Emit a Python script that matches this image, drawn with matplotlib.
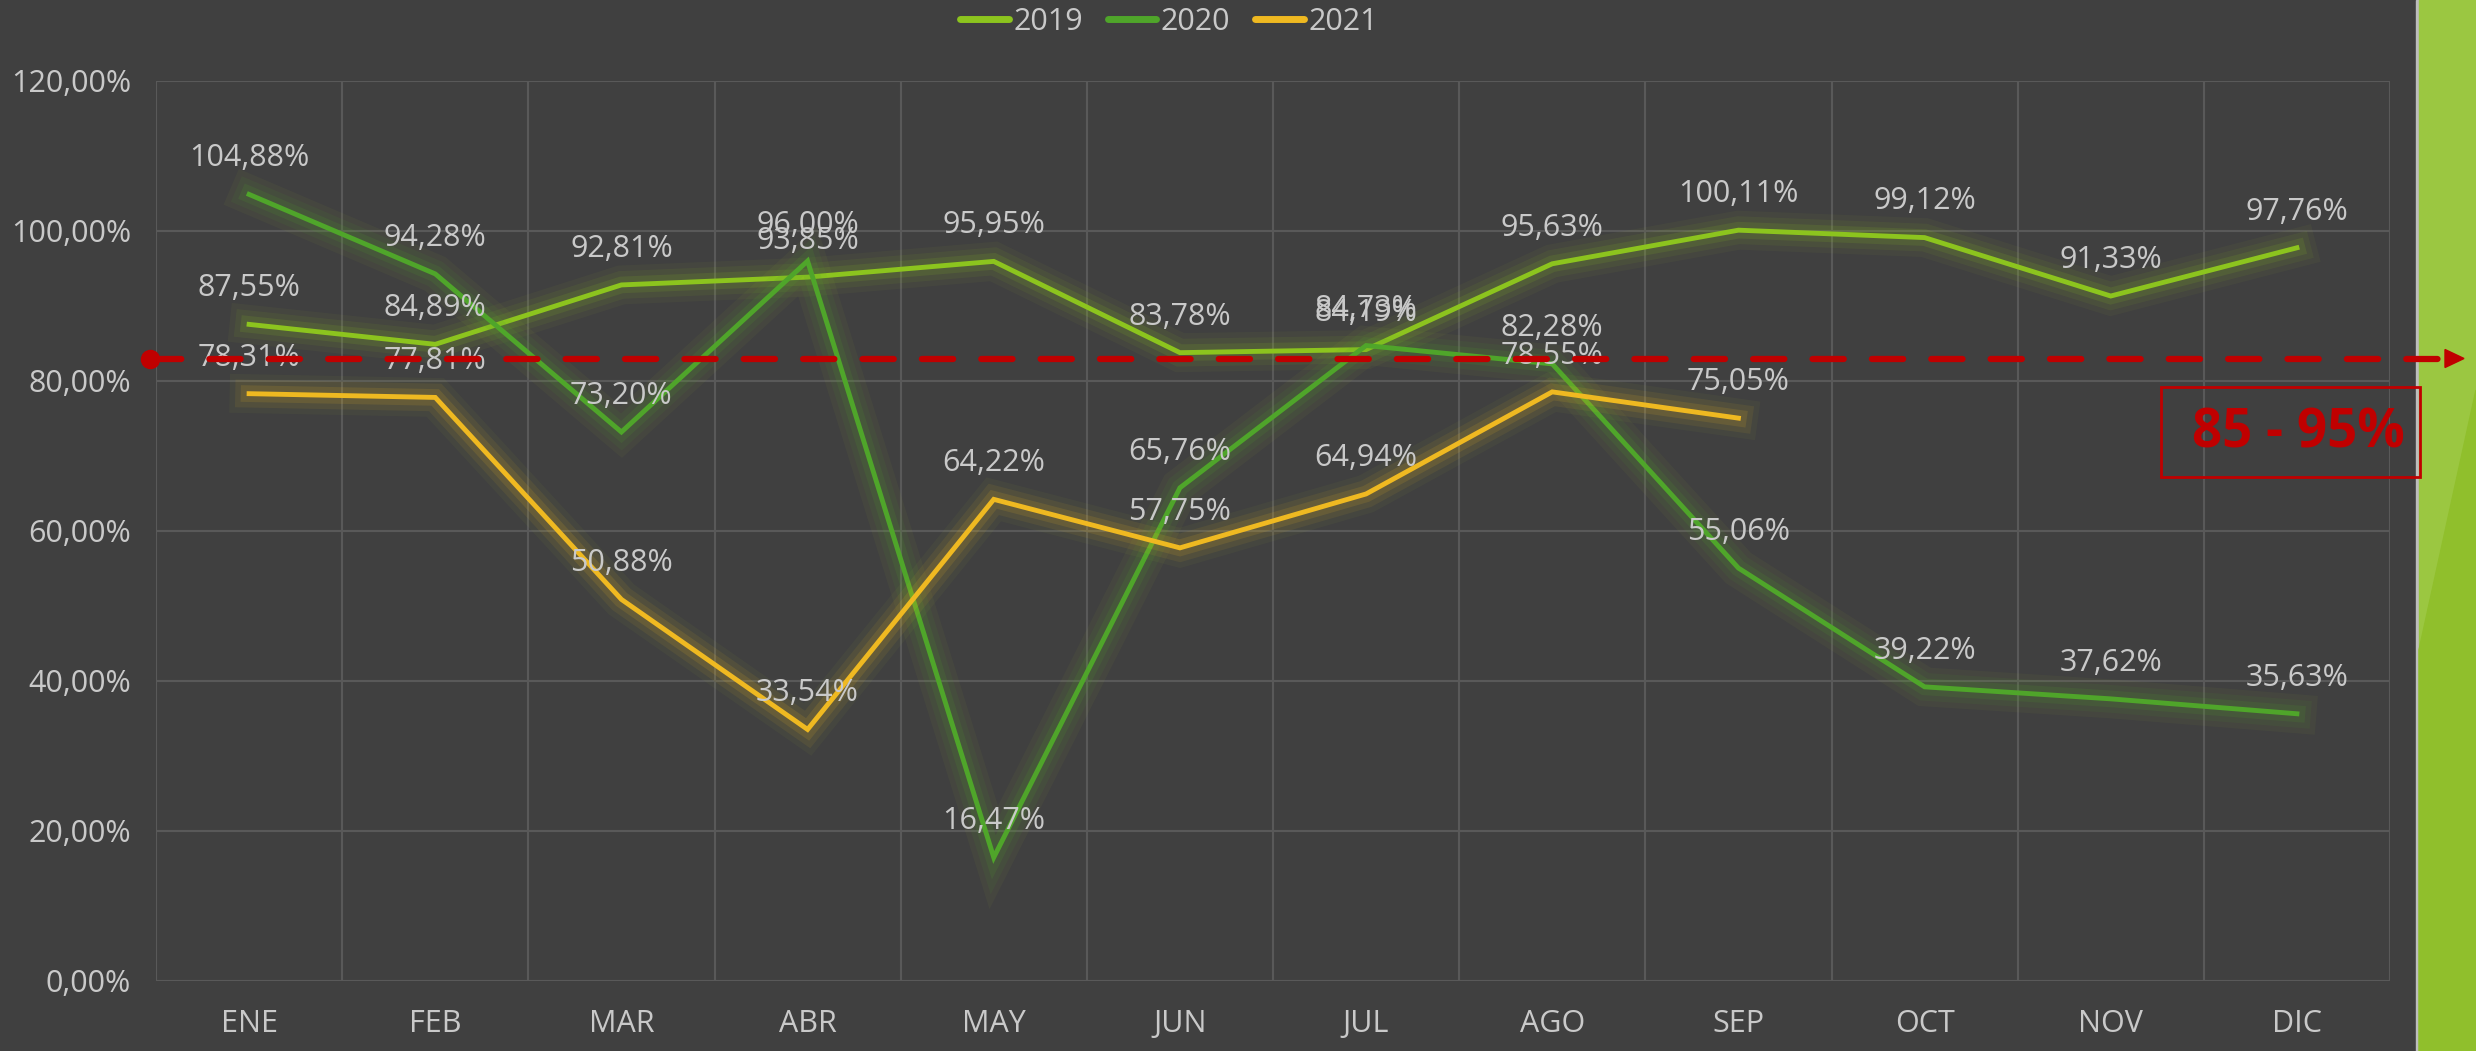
import numpy as np
import matplotlib
matplotlib.use("Agg")
import matplotlib.pyplot as plt
import matplotlib.patheffects as pe
from matplotlib.lines import Line2D
from matplotlib.patches import Rectangle, Polygon

# data
months = ["ENE", "FEB", "MAR", "ABR", "MAY", "JUN", "JUL", "AGO", "SEP", "OCT", "NOV", "DIC"]
vals_2019 = [87.55, 84.89, 92.81, 93.85, 95.95, 83.78, 84.19, 95.63, 100.11, 99.12, 91.33, 97.76]
vals_2020 = [104.88, 94.28, 73.20, 96.00, 16.47, 65.76, 84.73, 82.28, 55.06, 39.22, 37.62, 35.63]
vals_2021 = [78.31, 77.81, 50.88, 33.54, 64.22, 57.75, 64.94, 78.55, 75.05]
target = 83.0
target_label = "85 - 95%"
y_ticks = [0, 20, 40, 60, 80, 100, 120]

series = [("2019", vals_2019, "#8cc41e"),
          ("2020", vals_2020, "#4fa52a"),
          ("2021", vals_2021, "#efb921")]

BG = "#404040"
TXT = "#c9c9c9"
GRID = "#595959"
RED = "#c00000"
plt.rcParams["font.family"] = ["Open Sans", "DejaVu Sans"]

W, H = 2476, 1051
fig = plt.figure(figsize=(W / 100, H / 100), dpi=100, facecolor=BG)
ax = fig.add_axes([156 / W, 1 - 981 / H, (2390 - 156) / W, 900 / H], facecolor=BG)

x = np.arange(len(months))
for name, vals, col in series:
    xs = x[:len(vals)]
    glow = [pe.Stroke(linewidth=28, foreground="#a8c832", alpha=0.05),
            pe.Stroke(linewidth=20, foreground=col, alpha=0.08),
            pe.Stroke(linewidth=12, foreground=col, alpha=0.13),
            pe.Normal()]
    ax.plot(xs, vals, color=col, lw=3.5, label=name, solid_joinstyle="miter",
            path_effects=glow, zorder=3)
    for xi, v in zip(xs, vals):
        ax.annotate(f"{v:.2f}%".replace(".", ","), (xi, v), xytext=(0, 26),
                    textcoords="offset points", ha="center", va="center",
                    fontsize=22, color=TXT, zorder=5)

ax.set_xlim(-0.5, len(months) - 0.5)
ax.set_ylim(0, 120)
ax.set_yticks(y_ticks)
ax.set_yticklabels([f"{t:.2f}%".replace(".", ",") for t in y_ticks])
ax.set_xticks(x)
ax.set_xticklabels(months)
ax.set_xticks(np.arange(-0.5, len(months)), minor=True)
ax.tick_params(axis="both", which="both", length=0, colors=TXT, labelsize=22)
ax.tick_params(axis="y", pad=18)
ax.tick_params(axis="x", pad=20)
ax.grid(True, axis="y", color=GRID, lw=1.5)
ax.grid(True, axis="x", which="minor", color=GRID, lw=1.5)
ax.grid(False, axis="x", which="major")
for s in ax.spines.values():
    s.set_visible(False)
ax.set_axisbelow(True)

# target dashed line, running past the plot area
ty = ax.transData.transform((0, target))[1] / H
fig.add_artist(Line2D([150 / W, 2440 / W], [ty, ty], color=RED, lw=4.5,
                      ls=(0, (5, 4.5)), dash_capstyle="round", zorder=6))
fig.add_artist(Line2D([150 / W], [ty], marker="o", ms=13, color=RED, zorder=6))
fig.add_artist(Polygon([[2445 / W, ty + 9 / H], [2445 / W, ty - 9 / H], [2464 / W, ty]],
                       closed=True, color=RED, transform=fig.transFigure, zorder=6))

# target range box
fig.add_artist(Rectangle((2161 / W, 1 - 477 / H), (2420 - 2161) / W, 90 / H,
                         fill=False, ec=RED, lw=2, transform=fig.transFigure, zorder=6))
fig.text(2298 / W, 1 - 434 / H, target_label, color=RED, fontsize=38, fontweight="bold",
         ha="center", va="center", zorder=7)

# green decorative band on the right
fig.add_artist(Rectangle((2416 / W, 0), 3 / W, 1, color="#bdbdbd",
                         transform=fig.transFigure, zorder=1))
fig.add_artist(Rectangle((2419 / W, 0), (W - 2419) / W, 1, color="#9bc741",
                         transform=fig.transFigure, zorder=1))
fig.add_artist(Polygon([[2419 / W, 1 - 650 / H], [1, 1 - 390 / H], [1, 0], [2419 / W, 0]],
                       closed=True, color="#90bf2c", transform=fig.transFigure, zorder=1))

handles = [Line2D([], [], color=c, lw=5, solid_capstyle="round") for _, _, c in series]
leg = fig.legend(handles, [n for n, _, _ in series], loc="center",
                 bbox_to_anchor=(1169 / W, 1 - 22 / H), ncol=3, frameon=False,
                 fontsize=22, handlelength=1.6, handletextpad=0.15, columnspacing=0.8)
for t in leg.get_texts():
    t.set_color(TXT)

fig.savefig("out.png", dpi=100, facecolor=BG)
